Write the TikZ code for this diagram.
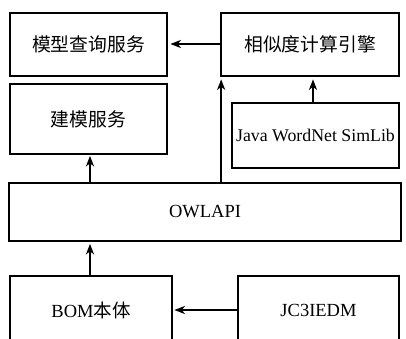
\documentclass[tikz,border=0pt]{standalone}
\usepackage{fontspec}
\setmainfont{Liberation Serif}
\newfontfamily\cjk{Noto Sans CJK SC}
\usetikzlibrary{arrows.meta}
\begin{document}
\begin{tikzpicture}[x=1pt,y=-1pt,
  box/.style={draw,line width=1.7pt,inner sep=0pt,font=\fontsize{18.5}{20}\selectfont},
  arr/.style={line width=1.8pt,-{Stealth[length=10.5pt,width=8pt,inset=3pt]}}]
\useasboundingbox (0,0) rectangle (406,339);
\clip (0,0) rectangle (406,339);
\node[box,minimum width=157pt,minimum height=63pt] (q) at (88.5,44.5) {\cjk\fontsize{18.8}{20}\selectfont 模型查询服务};
\node[box,minimum width=178pt,minimum height=63pt] (s) at (310,44.5) {\cjk\fontsize{18.8}{20}\selectfont 相似度计算引擎};
\node[box,minimum width=157pt,minimum height=70pt] (m) at (88.5,119) {\cjk\fontsize{18.8}{20}\selectfont 建模服务};
\node[box,minimum width=167pt,minimum height=65pt,font=\fontsize{17.8}{20}\selectfont] (j) at (315.5,135.5) {Java WordNet SimLib};
\node[box,minimum width=392pt,minimum height=58pt] (o) at (205,212) {OWLAPI};
\node[box,minimum width=162pt,minimum height=68pt] (b) at (91,310) {BOM{\cjk 本体}};
\node[box,minimum width=161pt,minimum height=68pt] (c) at (318.5,310) {JC3IEDM};
\draw[arr,shorten >=2.5pt] (s.west |- 0,44) -- (q.east |- 0,44);
\draw[arr,shorten >=2.5pt] (j.north -| 313,0) -- (s.south -| 313,0);
\draw[arr,shorten >=2.5pt] ([xshift=1pt]o.north -| s.south west) -- ([xshift=1pt]s.south west);
\draw[arr,shorten >=1pt] (o.north -| 90,0) -- (m.south -| 90,0);
\draw[arr,shorten >=2pt] (b.north -| 90,0) -- (o.south -| 90,0);
\draw[arr,shorten >=1.5pt] (c.west) -- (b.east);
\end{tikzpicture}
\end{document}
